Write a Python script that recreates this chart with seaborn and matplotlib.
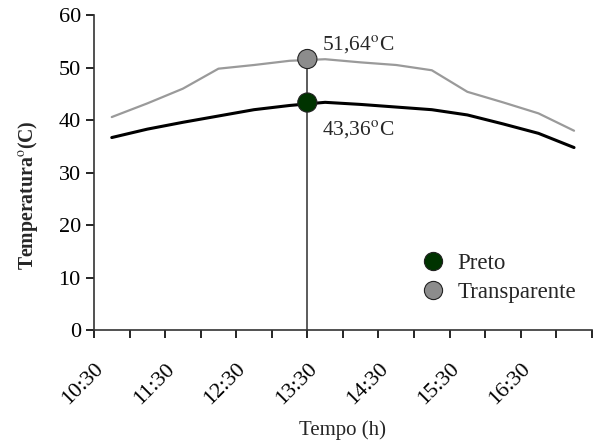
import pandas as pd
import seaborn as sns
import matplotlib.pyplot as plt

# leituras (hora, temperatura em graus C)
horas = ["10:45", "11:15", "11:45", "12:15", "12:45", "13:15", "13:45",
         "14:15", "14:45", "15:15", "15:45", "16:15", "16:45", "17:15"]
preto = [36.7, 38.3, 39.6, 40.8, 42.0, 42.8, 43.4,
         43.0, 42.5, 42.0, 41.0, 39.3, 37.5, 34.8]
transparente = [40.6, 43.2, 46.0, 49.8, 50.5, 51.3, 51.6,
                51.0, 50.5, 49.5, 45.4, 43.4, 41.3, 38.0]

pico_hora = "13:30"
pico_serie = ["Preto", "Transparente"]
pico_valor = [43.36, 51.64]
pico_texto = ["43,36$^{\\rm o}$C", "51,64$^{\\rm o}$C"]

ticks_x = ["10:30", "11:00", "11:30", "12:00", "12:30", "13:00", "13:30", "14:00",
           "14:30", "15:00", "15:30", "16:00", "16:30", "17:00", "17:30"]
rotulos_x = ["10:30", "", "11:30", "", "12:30", "", "13:30", "",
             "14:30", "", "15:30", "", "16:30", "", ""]


def to_hours(s):
    h, m = s.split(":")
    return int(h) + int(m) / 60


sns.set_style("ticks")
plt.rcParams["font.family"] = ["Liberation Serif", "DejaVu Serif"]
plt.rcParams["mathtext.fontset"] = "stix"

df = pd.DataFrame({
    "hora": [to_hours(h) for h in horas] * 2,
    "temp": preto + transparente,
    "serie": ["Preto"] * len(horas) + ["Transparente"] * len(horas),
})
pico = pd.DataFrame({"hora": [to_hours(pico_hora)] * 2, "temp": pico_valor, "serie": pico_serie})

fig = plt.figure(figsize=(5.93, 4.43), dpi=100)
ax = fig.add_axes([0.1585, 0.254, 0.8395, 0.712])

sns.lineplot(data=df[df.serie == "Transparente"], x="hora", y="temp", color="#9a9a9a",
             linewidth=1.6, ax=ax, legend=False)
sns.lineplot(data=df[df.serie == "Preto"], x="hora", y="temp", color="black",
             linewidth=2.2, ax=ax, legend=False)

xp = to_hours(pico_hora)
ax.plot([xp, xp], [0, max(pico_valor)], color="#404040", linewidth=1.2, zorder=2)

sns.scatterplot(data=pico, x="hora", y="temp", hue="serie",
                palette={"Preto": "#003300", "Transparente": "#8c8c8c"},
                s=190, edgecolor="#222222", linewidth=0.8, ax=ax, zorder=5)

ax.text(xp + 0.2, pico_valor[1] + 2.9, pico_texto[1], fontsize=15.5, va="center", ha="left")
ax.text(xp + 0.2, pico_valor[0] - 5.0, pico_texto[0], fontsize=15.5, va="center", ha="left")

ax.set_xlim(to_hours(ticks_x[0]), to_hours(ticks_x[-1]))
ax.set_ylim(0, 60)
ax.set_yticks([0, 10, 20, 30, 40, 50, 60])
ax.set_xticks([to_hours(t) for t in ticks_x])
ax.set_xticklabels(rotulos_x, rotation=45, ha="right", rotation_mode="anchor")
ax.tick_params(axis="both", labelsize=16, length=6, width=1.2, direction="out", colors="black")
ax.tick_params(axis="x", pad=15)

ax.set_xlabel("Tempo (h)", fontsize=15, labelpad=8)
ax.set_ylabel("Temperatura$^{\\rm o}$(C)", fontsize=14.2, fontweight="bold")
ax.yaxis.set_label_coords(-0.108, 0.43)

sns.despine(ax=ax)
for s in ["left", "bottom"]:
    ax.spines[s].set_linewidth(1.2)
    ax.spines[s].set_color("#333333")

ax.legend(loc="center left", bbox_to_anchor=(0.594, 0.165), frameon=False,
          fontsize=16.5, handletextpad=0.05, labelspacing=0.35, markerscale=0.95, title=None)

fig.savefig("out.png", dpi=100)
